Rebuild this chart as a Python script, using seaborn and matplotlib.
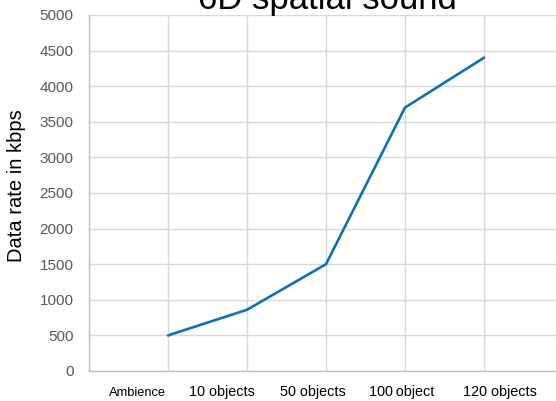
import numpy as np
import pandas as pd
import matplotlib
matplotlib.use("Agg")
import matplotlib.pyplot as plt
import matplotlib.transforms as mtransforms
import seaborn as sns

# Data
categories = ["Ambience", "10 objects", "50 objects", "100\u2009object", "120 objects"]
data_rate_kbps = [500, 860, 1500, 3700, 4400]
y_ticks = [0, 500, 1000, 1500, 2000, 2500, 3000, 3500, 4000, 4500, 5000]

sns.set_theme(style="white")
plt.rcParams["font.family"] = ["Liberation Sans", "DejaVu Sans"]

df = pd.DataFrame({
    "pos": np.arange(1, len(categories) + 1),
    "rate": data_rate_kbps,
    "category": categories,
})

fig = plt.figure(figsize=(5.56, 4.01), dpi=100)
ax = fig.add_axes([89 / 556, 1 - 371 / 401, 1 - 89 / 556, (371 - 15) / 401])

sns.lineplot(data=df, x="pos", y="rate", ax=ax, color="#0f70b7", linewidth=1.9)

ax.set_xlim(0, (556 - 89) / 79)
ax.set_ylim(0, 5000)

# vertical grid on category boundaries, horizontal grid every 500
ax.set_xticks(np.arange(0, len(categories) + 1))
ax.set_xticklabels([])
ax.set_yticks(y_ticks)
ax.set_yticklabels([str(v) for v in y_ticks], fontsize=11, color="#595959")
ax.grid(True, color="#d9d9d9", linewidth=1.0)
ax.tick_params(axis="both", length=0)
ax.tick_params(axis="y", pad=11)
ax.tick_params(axis="x", pad=0)

for side in ["top", "right"]:
    ax.spines[side].set_visible(False)
for side in ["left", "bottom"]:
    ax.spines[side].set_color("#bfbfbf")
    ax.spines[side].set_linewidth(1.0)

# category labels under the axis
label_offsets = [-0.39, -0.32, -0.16, -0.04, 0.2]
label_sizes = [9.3, 10.4, 10.4, 10.4, 10.4]
trans = mtransforms.blended_transform_factory(ax.transData, fig.transFigure)
for p, lab, off, fs in zip(df["pos"], categories, label_offsets, label_sizes):
    ax.text(p + off, 1 - 396 / 401, lab, transform=trans,
            ha="center", va="baseline", fontsize=fs, color="#000000")

ax.set_xlabel("")
ax.set_ylabel("")
fig.text(17 / 556, 1 - 186 / 401, "Data rate in kbps", rotation=90,
         ha="center", va="center", fontsize=14.5, color="#000000")

fig.text(327 / 556, 1 - 9 / 401, "6D spatial sound", ha="center", va="baseline",
         fontsize=25, color="#000000")

fig.savefig("out.png", dpi=100)
